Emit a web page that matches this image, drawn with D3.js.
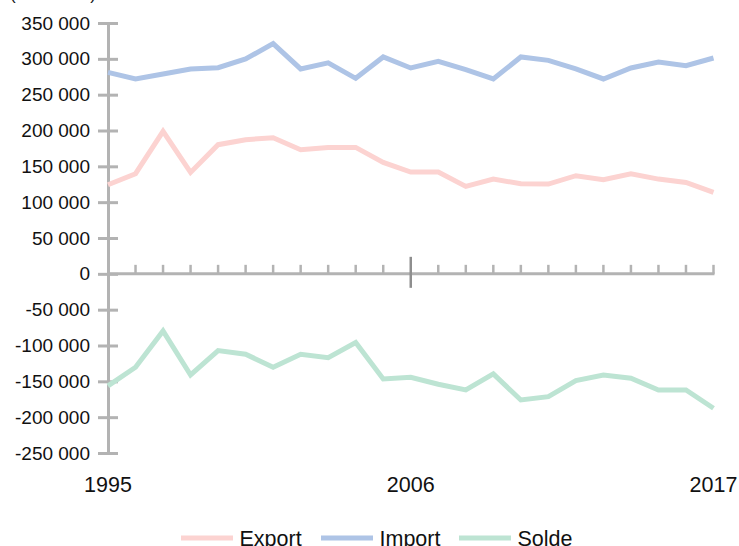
<!DOCTYPE html>
<html>
<head>
<meta charset="utf-8">
<script src="https://cdn.jsdelivr.net/npm/d3@7"></script>
<style>
  body { margin: 0; background: #fff; }
  svg { display: block; font-family: "Liberation Sans", Arial, sans-serif; }
</style>
</head>
<body>
<svg id="chart"></svg>
<script>
// data
const years = d3.range(1995, 2018)
const exportValues = [124300, 139700, 198800, 141500, 180200, 187200, 189900, 173200, 176400, 176400, 155400, 142000,
  142000, 122000, 132200, 125700, 125300, 136900, 131300, 139700, 132200, 127500, 113600]
const importValues = [281100, 271900, 278900, 285900, 287700, 299800, 321200, 285900, 294300, 272800, 302600, 287200,
  296500, 284900, 271900, 302600, 297900, 285900, 271900, 287200, 295600, 290500, 301200]
const soldeValues = [-156400, -130300, -79600, -141100, -107100, -112200, -130300, -112200, -116900, -95900, -146600, -144300,
  -154100, -162000, -139700, -176000, -171400, -149000, -141100, -145700, -162000, -162000, -187600]
const yTickValues = [-250000, -200000, -150000, -100000, -50000, 0, 50000, 100000, 150000, 200000, 250000, 300000, 350000]
const xLabels = [1995, 2006, 2017]
const seriesNames = ['Export', 'Import', 'Solde']
const unitLabel = '(en tonnes)'

const width = 739
const height = 546
const colors = { Export: '#fcd3d1', Import: '#aec4e6', Solde: '#bde4d3' }
const axisColor = '#b3b3b3'

const fr = d3.formatLocale({ decimal: ',', thousands: '\u00a0', grouping: [3], currency: ['', ' €'], minus: '-' })
const fmt = fr.format(',d')

const svg = d3.select('#chart')
  .attr('width', width)
  .attr('height', height)

const x = d3.scaleLinear()
  .domain([1995, 2017])
  .range([108, 713.5])

const y = d3.scaleLinear()
  .domain([-250000, 350000])
  .range([453, 23])

// unit label, mostly cut off at the top
svg.append('text')
  .attr('x', 10)
  .attr('y', 0)
  .attr('font-size', 17)
  .attr('fill', '#111')
  .text(unitLabel)

// y axis
const yAxis = d3.axisLeft(y)
  .tickValues(yTickValues)
  .tickFormat(fmt)
  .tickSize(0)
  .tickPadding(18)

const gy = svg.append('g')
  .attr('transform', `translate(${x(1995)}, 0)`)
  .call(yAxis)

gy.select('.domain')
  .attr('stroke', axisColor)
  .attr('stroke-width', 3)

gy.selectAll('.tick line').remove()
gy.selectAll('.tick').append('line')
  .attr('x1', -10)
  .attr('x2', 10)
  .attr('stroke', axisColor)
  .attr('stroke-width', 3)

gy.selectAll('.tick text')
  .attr('font-size', 19)
  .attr('fill', '#111')
  .attr('font-family', '"Liberation Sans", Arial, sans-serif')

// x axis at zero
const gx = svg.append('g')
  .attr('transform', `translate(0, ${y(0)})`)

gx.append('line')
  .attr('x1', x(1995))
  .attr('x2', x(2017) + 1)
  .attr('stroke', axisColor)
  .attr('stroke-width', 3)

gx.selectAll('.minor')
  .data(years.slice(1).filter(d => d !== 2006))
  .enter().append('line')
  .attr('class', 'minor')
  .attr('x1', d => x(d))
  .attr('x2', d => x(d))
  .attr('y1', -9)
  .attr('y2', 0)
  .attr('stroke', axisColor)
  .attr('stroke-width', 2.5)

gx.append('line')
  .attr('x1', x(2006))
  .attr('x2', x(2006))
  .attr('y1', -17)
  .attr('y2', 14)
  .attr('stroke', '#8e8e8e')
  .attr('stroke-width', 2.5)

// year labels
svg.append('g').selectAll('text')
  .data(xLabels)
  .enter().append('text')
  .attr('x', d => x(d))
  .attr('y', 491.5)
  .attr('text-anchor', 'middle')
  .attr('font-size', 21.5)
  .attr('fill', '#111')
  .text(d => d)

// lines
const series = [
  { name: 'Export', values: exportValues },
  { name: 'Import', values: importValues },
  { name: 'Solde', values: soldeValues }
]

const line = d3.line()
  .x((d, i) => x(years[i]))
  .y(d => y(d))

svg.append('g').selectAll('path')
  .data(series)
  .enter().append('path')
  .attr('d', d => line(d.values))
  .attr('fill', 'none')
  .attr('stroke', d => colors[d.name])
  .attr('stroke-width', 5)
  .attr('stroke-linejoin', 'miter')

// legend
const legendX = [181, 321, 459]
const legend = svg.append('g').selectAll('g')
  .data(seriesNames)
  .enter().append('g')
  .attr('transform', (d, i) => `translate(${legendX[i]}, 538)`)

legend.append('line')
  .attr('x1', 0)
  .attr('x2', 52)
  .attr('stroke', d => colors[d])
  .attr('stroke-width', 5)

legend.append('text')
  .attr('x', 58.5)
  .attr('y', 7.5)
  .attr('font-size', 21.5)
  .attr('fill', '#111')
  .text(d => d)
</script>
</body>
</html>
